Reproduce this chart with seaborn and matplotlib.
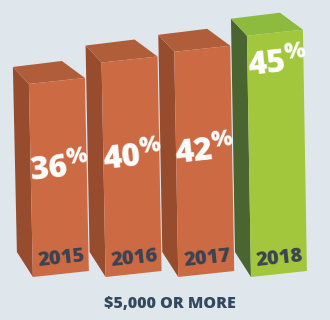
import matplotlib
matplotlib.use("Agg")
import matplotlib.pyplot as plt
import seaborn as sns
import pandas as pd
from matplotlib.patches import Polygon

# ---- data ----
years = ["2015", "2016", "2017", "2018"]
shares = [36, 40, 42, 45]
highlight_year = "2018"
title = "$5,000 OR MORE"

# ---- style ----
BG = "#DFE7EC"
ORANGE = "#CC6A44"
GREEN = "#A2C63C"
SHADES = {  # front -> (side, top)
    ORANGE: ("#984C2E", "#B05E3A"),
    GREEN: ("#4A6530", "#8CBB3E"),
}
YEAR_COLOR = "#3A4353"
TITLE_COLOR = "#34495E"
WEIGHT = "heavy"

sns.set_theme(style="white")
plt.rcParams['font.family'] = ['Open Sans', 'DejaVu Sans']
plt.rcParams['mathtext.fontset'] = 'custom'
plt.rcParams['mathtext.rm'] = 'Open Sans:extrabold'
plt.rcParams['mathtext.bf'] = 'Open Sans:extrabold'
plt.rcParams['mathtext.default'] = 'rm'

W, H = 330, 320
fig = plt.figure(figsize=(W / 100, H / 100), dpi=100, facecolor=BG)
ax = fig.add_axes([0, 46 / H, 1, 1 - 46 / H])
ax.set_facecolor(BG)

df = pd.DataFrame({"year": years, "share": shares})
palette = {y: (GREEN if y == highlight_year else ORANGE) for y in years}
sns.barplot(data=df, x="year", y="share", hue="year", palette=palette,
            width=0.77, saturation=1, legend=False, ax=ax)
ax.set_xlim(-0.81, 3.73)
ax.set_ylim(0, 51.1)
ax.axis("off")

fig.canvas.draw()
to_fig = fig.transFigure.inverted()


def poly(pts, color, z):
    p = Polygon(to_fig.transform(pts), closed=True, facecolor=color,
                edgecolor="none", transform=fig.transFigure, zorder=z)
    fig.add_artist(p)


for i, (patch, yr, val) in enumerate(zip(ax.patches, years, shares)):
    front = GREEN if yr == highlight_year else ORANGE
    side, top = SHADES[front]
    x0, x1 = patch.get_x(), patch.get_x() + patch.get_width()
    (px0, py0), (px1, py1) = ax.transData.transform([(x0, 0), (x1, patch.get_height())])
    patch.set_visible(False)
    TL = (px0 - 2, py1 - 3)
    TR = (px1 - 2, py1 + 3)
    BR = (px1 + 2, py0 + 3)
    BL = (px0 + 2, py0 - 3)
    bTL = (TL[0] - 16, TL[1] + 17)
    bTR = (TR[0] - 23, TR[1] + 17)
    bBL = (BL[0] - 16, BL[1] + 25)
    z = 3 + i * 0.1
    poly([TL, bTL, bBL, BL], side, z)
    poly([TL, TR, bTR, bTL], top, z + 0.01)
    poly([TL, TR, BR, BL], front, z + 0.02)
    cx = (px0 + px1) / 2
    # year label
    fx, fy = to_fig.transform((cx + 3, py0 + 15))
    fig.text(fx, fy, yr, ha="center", va="center", rotation=6,
             rotation_mode="anchor", color=YEAR_COLOR, fontsize=14.5,
             fontweight=WEIGHT, zorder=10)
    # percent label
    if yr == highlight_year:
        ly = val - 6
    else:
        ly = val * 0.54
    _, ply = ax.transData.transform((0, ly))
    fx, fy = to_fig.transform((cx + 1, ply))
    fig.text(fx, fy, f"{val}" + r"$^{\%}$", ha="center", va="center",
             rotation=6, rotation_mode="anchor", color="white",
             fontsize=23, fontweight=WEIGHT, zorder=10)

fig.text(170 / W, 1 - 304 / H, title, ha="center", va="center",
         color=TITLE_COLOR, fontsize=11.5, fontweight=WEIGHT)

fig.savefig("out.png", dpi=100, facecolor=BG)
